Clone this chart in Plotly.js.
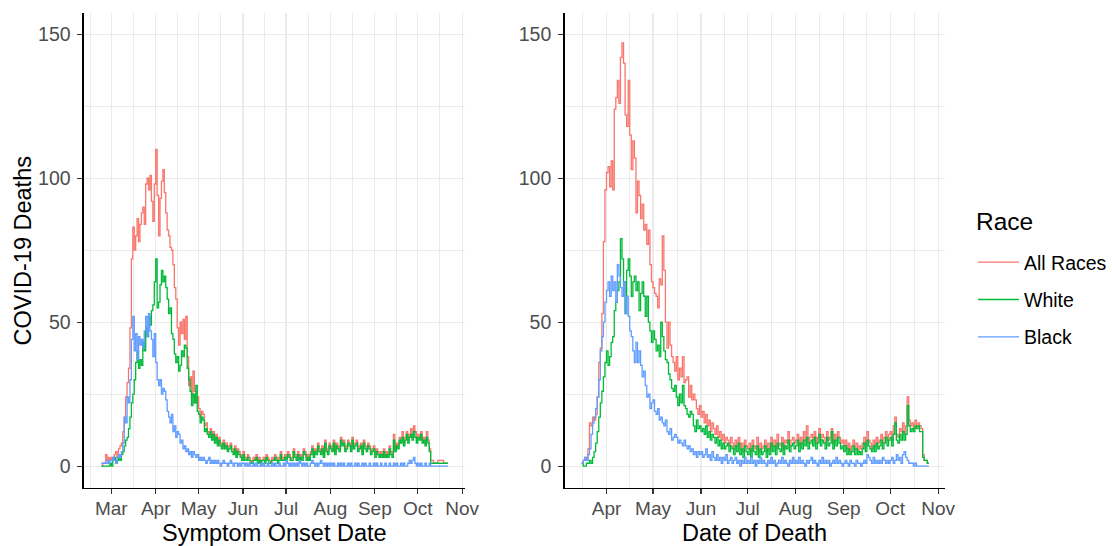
<!DOCTYPE html>
<html>
<head>
<meta charset="utf-8">
<script src="https://cdn.plot.ly/plotly-3.0.1.min.js"></script>
<style>html,body{margin:0;padding:0;background:#fff;}#chart{width:1112px;height:546px;}</style>
</head>
<body>
<div id="chart"></div>
<script>
// ---------------- DATA ----------------
var seriesNames = ["All Races", "White", "Black"];
var seriesColors = ["#F8766D", "#00BA38", "#619CFF"];

// Left panel: by symptom onset date, daily from 2020-02-23 to 2020-10-22
var onsetStart = "2020-02-23";
var onsetAll = [
  0,1,1,4,2,3,2,
  3,2,4,5,3,6,7, 8,12,17,24,29,34,48, 72,83,75,80,86,78,84, 88,90,84,98,100,96,101, 92,85,98,
  110,94,80,93,99,103,95,88,82,80,76,75,70,62,58,48,42,50,46,51,44,52,38,28,31,24,33,26,22,24,
  20,17,19,18,14,15,12,11,13,10,12,9,11,8,10,8,7,9,7,8,6,7,8,6,5,7,4,6,5,4,3,
  5,3,2,4,3,2,1,3,2,4,2,3,1,2,3,2,4,3,2,1,3,2,4,3,2,3,5,2,3,4,
  3,5,4,2,3,6,4,3,5,2,4,3,6,5,3,4,2,5,7,4,6,5,8,6,5,7,4,9,6,5,8,
  7,6,9,5,8,7,6,10,8,9,6,7,9,8,6,10,7,8,9,6,7,8,5,9,7,6,8,7,5,6,7,
  4,6,5,3,5,4,6,3,5,4,7,5,4,11,6,8,7,10,9,12,8,10,12,9,11,13,10,14,12,9,
  11,10,12,9,10,8,12,9,6,2,2,1,1,1,2,2,2,2,1,1,1,1
];
var onsetWhite = [
  0,0,0,0,0,0,1,
  0,2,3,1,2,3,2, 4,5,7,9,10,13,17, 22,25,30,36,40,34,37, 35,43,40,48,45,52,49, 54,56,64,
  72,55,57,63,68,64,66,62,58,53,55,46,44,39,36,38,33,35,40,38,42,41,34,30,26,21,25,22,28,19,
  18,15,17,16,12,13,11,10,12,9,11,8,10,7,9,7,6,8,6,7,5,6,7,5,4,6,3,5,4,3,2,
  4,2,2,3,2,1,1,2,2,3,1,2,1,2,2,1,3,2,1,1,2,2,3,2,1,2,4,2,2,3,
  2,4,3,2,2,5,3,2,4,2,3,2,5,4,2,3,2,4,6,3,5,4,7,5,4,6,3,8,5,4,7,
  6,5,8,4,7,6,5,9,7,8,5,6,8,7,5,9,6,7,8,5,6,7,4,8,6,5,7,6,4,5,6,
  3,5,4,3,4,3,5,3,4,3,6,4,3,9,5,7,6,9,8,10,7,9,11,8,10,11,9,12,10,8,
  10,9,11,8,9,7,10,8,5,1,1,1,1,1,1,1,1,1,1,1,1,1
];
var onsetBlack = [
  1,1,1,1,2,1,2,
  2,3,2,1,3,4,3, 5,8,17,15,24,22,30, 44,52,40,46,37,45,42, 44,41,47,52,45,53,47, 44,38,46,
  36,30,28,30,25,27,26,23,19,17,15,18,12,14,10,12,11,8,9,6,7,5,6,4,5,3,5,4,3,4,
  2,3,2,3,2,1,2,3,1,2,1,2,1,2,1,0,1,2,1,1,0,1,2,1,0,1,1,0,1,0,1,
  1,0,1,0,1,0,0,1,0,1,0,0,1,0,1,0,0,1,0,0,1,0,1,0,0,1,0,0,1,0,
  2,1,0,1,0,1,0,1,0,2,1,0,1,0,1,0,0,1,2,1,0,1,0,1,2,1,0,1,0,1,0,
  1,0,1,0,0,1,0,1,0,1,0,0,1,0,1,0,0,1,0,1,0,0,1,0,1,0,0,1,0,0,1,
  0,1,0,0,1,0,0,1,0,0,1,0,0,1,0,1,0,0,1,0,1,0,0,1,2,1,2,3,1,0,
  1,0,1,0,0,1,0,0,1,0,0,0,0,0,0,0,0,0,0,0,0,0
];

// Right panel: by date of death, daily from 2020-03-16 to 2020-10-26
var deathStart = "2020-03-16";
var deathAll = [
  1,2,3,2,6,15,14,17,16,18,24,36,41,53,78,96,
  102,104,97,106,96,124,128,134,126,142,147,140,122,118,134,115,103,113,107,88,99,94,86,91,82,84,77,82,70,64,
  62,60,59,55,65,63,80,68,50,41,50,42,38,36,33,38,30,34,31,38,29,30,31,24,28,23,25,23,20,18,21,
  17,19,15,18,14,16,12,15,13,11,14,10,12,9,11,8,10,9,7,10,8,6,9,7,10,6,8,5,9,7,
  6,8,5,9,7,6,10,5,8,6,7,9,5,8,6,10,7,9,6,11,8,7,10,6,9,8,12,7,9,10,8,
  9,11,7,10,8,12,9,14,8,10,11,9,12,8,10,13,9,11,10,8,12,9,10,13,8,11,9,12,10,8,9,
  7,9,6,8,5,7,9,6,8,5,7,6,8,10,7,12,9,8,6,9,7,10,8,9,11,8,10,12,9,11,
  12,9,14,17,11,10,13,12,15,11,14,24,16,14,15,13,16,14,15,14,13,4,2,2,1,1
];
var deathWhite = [
  1,0,0,1,1,2,1,3,5,8,12,17,22,26,31,36,
  40,35,38,43,45,54,57,61,64,79,72,64,53,68,72,66,59,64,66,61,64,54,60,64,59,52,59,50,47,43,
  47,44,40,42,38,50,45,40,37,36,32,30,27,26,28,24,21,25,22,28,21,20,18,17,19,18,14,12,16,13,14,
  12,13,11,14,10,12,9,11,10,8,10,7,9,6,8,6,7,8,5,7,6,4,7,5,8,4,6,3,7,5,
  4,6,3,7,5,4,7,3,6,4,5,7,3,6,4,8,5,7,4,8,6,5,8,4,7,6,9,5,7,8,6,
  7,9,5,8,6,9,7,10,6,8,9,7,10,6,8,11,7,9,8,6,10,7,8,12,6,9,7,10,8,6,7,
  5,7,4,6,4,5,7,4,6,4,5,4,6,8,5,9,7,6,5,7,5,8,6,7,9,6,8,10,7,9,
  10,7,11,15,9,8,11,9,12,9,11,21,14,12,13,12,14,13,14,12,12,3,2,2,1,1
];
var deathBlack = [
  1,2,3,2,4,6,11,15,17,20,24,30,40,45,50,57,
  61,64,59,66,61,64,57,70,66,62,59,64,53,59,52,47,45,40,36,43,36,40,35,31,33,28,24,25,20,22,
  23,19,18,20,16,17,15,14,16,12,11,13,9,10,11,10,8,9,8,7,9,7,6,7,5,6,4,5,3,5,4,
  5,3,4,6,3,4,2,5,3,2,4,2,3,1,3,2,4,1,2,3,1,2,3,1,2,0,2,1,3,1,
  2,1,3,1,2,0,2,1,3,1,2,1,0,2,1,3,1,2,0,1,2,1,3,1,2,1,0,2,1,3,1,
  2,1,3,1,2,1,0,2,1,2,3,1,2,1,0,2,1,3,1,2,1,2,0,1,2,1,3,1,2,1,0,
  1,2,1,0,2,1,1,0,2,1,1,0,1,2,1,4,3,2,1,3,1,2,1,2,1,3,2,1,2,1,
  2,3,1,2,4,2,3,1,4,5,3,2,1,1,1,0,1,0,0,0,0,0,0,0,0,0
];

var yTickVals = [0, 50, 100, 150];
var yMinorVals = [25, 75, 125];
var xTitleLeft = "Symptom Onset Date";
var xTitleRight = "Date of Death";
var yTitle = "COVID-19 Deaths";
var legendTitle = "Race";

// ---------------- HELPERS ----------------
function makeDates(start, n) {
  var p = start.split("-").map(Number);
  var t0 = Date.UTC(p[0], p[1] - 1, p[2]);
  var out = [];
  for (var i = 0; i < n; i++) {
    var d = new Date(t0 + i * 86400000);
    out.push(d.toISOString().slice(0, 10));
  }
  return out;
}
function monthMids(y0, m0, count) {
  var out = [];
  for (var i = 0; i < count; i++) {
    var a = Date.UTC(y0, m0 + i, 1), b = Date.UTC(y0, m0 + i + 1, 1);
    out.push(new Date((a + b) / 2).toISOString().slice(0, 19).replace("T", " "));
  }
  return out;
}

var FONT = "Liberation Sans, Arial, Helvetica, sans-serif";
var onsetDates = makeDates(onsetStart, onsetAll.length);
var deathDates = makeDates(deathStart, deathAll.length);
var onsetSeries = [onsetAll, onsetWhite, onsetBlack];
var deathSeries = [deathAll, deathWhite, deathBlack];

var traces = [];
for (var k = 0; k < 3; k++) {
  traces.push({
    type: "scatter", mode: "lines", x: onsetDates, y: onsetSeries[k],
    name: seriesNames[k], legendgroup: seriesNames[k], showlegend: true,
    line: { color: seriesColors[k], width: 1.3, shape: "hv" },
    xaxis: "x", yaxis: "y", hoverinfo: "skip"
  });
}
for (var k2 = 0; k2 < 3; k2++) {
  traces.push({
    type: "scatter", mode: "lines", x: deathDates, y: deathSeries[k2],
    name: seriesNames[k2], legendgroup: seriesNames[k2], showlegend: false,
    line: { color: seriesColors[k2], width: 1.3, shape: "hv" },
    xaxis: "x2", yaxis: "y2", hoverinfo: "skip"
  });
}

var W = 1112, H = 546;
var GRID = "#EBEBEB";
function xAxis(domPx, range, anchor) {
  return {
    domain: [domPx[0] / W, domPx[1] / W], range: range, type: "date", anchor: anchor,
    tickmode: "linear", tick0: "2020-01-01", dtick: "M1", tickformat: "%b",
    ticks: "outside", ticklen: 5, tickwidth: 1.2, tickcolor: "#333333",
    tickfont: { family: FONT, size: 19, color: "#4D4D4D" }, ticklabelstandoff: -2,
    showline: true, linecolor: "#000000", linewidth: 1.5,
    showgrid: true, gridcolor: GRID, gridwidth: 1.2, zeroline: false,
    minor: { tickmode: "array", tickvals: monthMids(2020, 0, 12), showgrid: true, gridcolor: GRID, gridwidth: 1.0, ticks: "" },
    fixedrange: true
  };
}
function yAxis(anchor) {
  return {
    domain: [1 - 487.7 / H, 1 - 13.3 / H], range: [-7.5, 157.3], anchor: anchor,
    tickmode: "array", tickvals: yTickVals,
    ticks: "outside", ticklen: 5, tickwidth: 1.2, tickcolor: "#333333",
    tickfont: { family: FONT, size: 19.5, color: "#4D4D4D" }, ticklabelstandoff: 3,
    showline: true, linecolor: "#000000", linewidth: 1.5,
    showgrid: true, gridcolor: GRID, gridwidth: 1.2, zeroline: false,
    minor: { tickmode: "array", tickvals: yMinorVals, showgrid: true, gridcolor: GRID, gridwidth: 1.0, ticks: "" },
    fixedrange: true
  };
}

var layout = {
  width: W, height: H,
  margin: { l: 0, r: 0, t: 0, b: 0, pad: 0 },
  paper_bgcolor: "#ffffff", plot_bgcolor: "#ffffff",
  font: { family: FONT, color: "#000000" },
  showlegend: true,
  xaxis: xAxis([84.3, 466.7], ["2020-02-10 22:00", "2020-11-03 00:00"], "y"),
  yaxis: yAxis("x"),
  xaxis2: xAxis([566.7, 948.3], ["2020-03-05 00:00", "2020-11-05 08:00"], "y2"),
  yaxis2: yAxis("x2"),
  legend: {
    x: 976.7 / W, y: 1 - 243 / H, xanchor: "left", yanchor: "top",
    font: { family: FONT, size: 19.5, color: "#000000" },
    tracegroupgap: 9, itemwidth: 41, bgcolor: "rgba(0,0,0,0)", borderwidth: 0
  },
  annotations: [
    { text: legendTitle, xref: "paper", x: 978 / W, yref: "paper", y: 1 - 221.7 / H, xanchor: "left", yanchor: "middle", showarrow: false, font: { family: FONT, size: 24.5, color: "#000000" } },
    { text: xTitleLeft, xref: "x domain", x: 0.5, yref: "paper", y: 1 - 533 / H, xanchor: "center", yanchor: "middle", showarrow: false, font: { family: FONT, size: 23.5, color: "#000000" } },
    { text: xTitleRight, xref: "x2 domain", x: 0.5, yref: "paper", y: 1 - 533 / H, xanchor: "center", yanchor: "middle", showarrow: false, font: { family: FONT, size: 23.5, color: "#000000" } },
    { text: yTitle, xref: "paper", x: 23 / W, yref: "y domain", y: 0.5, xanchor: "center", yanchor: "middle", textangle: -90, showarrow: false, font: { family: FONT, size: 23.5, color: "#000000" } }
  ]
};

Plotly.newPlot("chart", traces, layout, { staticPlot: true, displayModeBar: false });
</script>
</body>
</html>
